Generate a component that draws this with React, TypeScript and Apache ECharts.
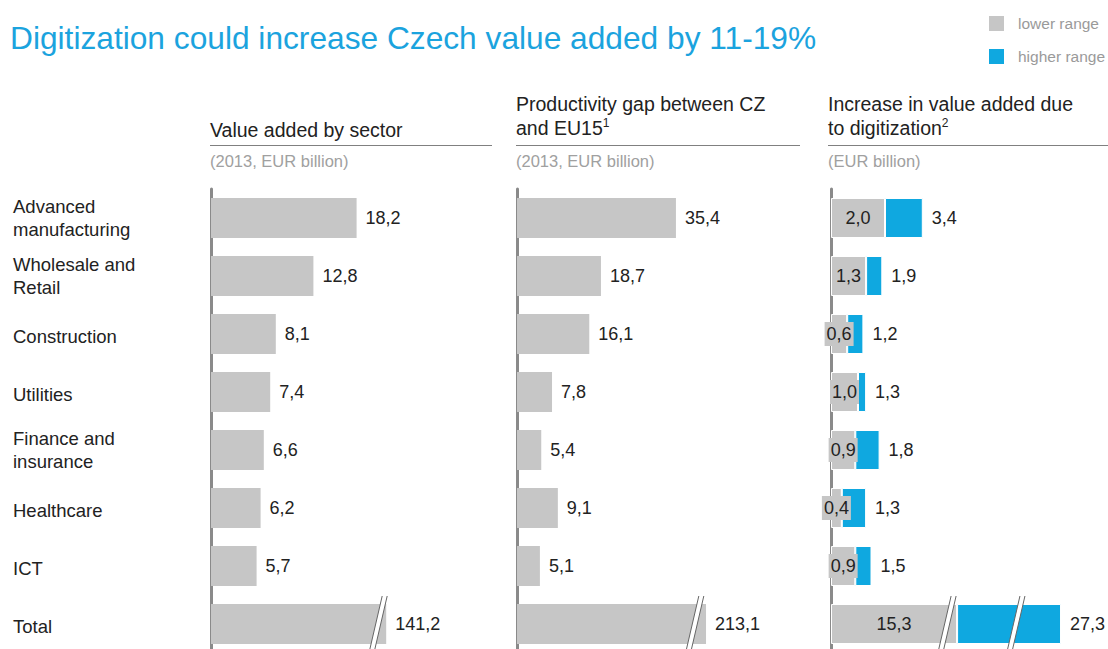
import React, { useEffect, useRef } from 'react';
import * as echarts from 'echarts';

const titleText = 'Digitization could increase Czech value added by 11-19%';
const categories = [
  'Advanced\nmanufacturing',
  'Wholesale and\nRetail',
  'Construction',
  'Utilities',
  'Finance and\ninsurance',
  'Healthcare',
  'ICT',
  'Total',
];
const valueAdded = [18.2, 12.8, 8.1, 7.4, 6.6, 6.2, 5.7, 141.2];
const productivityGap = [35.4, 18.7, 16.1, 7.8, 5.4, 9.1, 5.1, 213.1];
const lowerRange = [2.0, 1.3, 0.6, 1.0, 0.9, 0.4, 0.9, 15.3];
const higherRange = [3.4, 1.9, 1.2, 1.3, 1.8, 1.3, 1.5, 27.3];
const legendNames = ['lower range', 'higher range'];
const unitLabels = ['(2013, EUR billion)', '(2013, EUR billion)', '(EUR billion)'];

// axis breaks (start, end) for the long Total bars
const breaks1 = [[20.9, 140.2]];
const breaks2 = [[39.6, 210.6]];
const breaks3 = [[4.3, 14.93], [17.48, 25.63]];

const FONT = 'Liberation Sans, Arial, sans-serif';
const GRAY = '#c6c6c6';
const BLUE = '#0fa8e0';
const TXT = '#222';

const fmt = (v: number) => v.toFixed(1).replace('.', ',');

export default function App() {
  const ref = useRef<HTMLDivElement>(null);
  useEffect(() => {
    if (!ref.current) return;
    const chart = echarts.init(ref.current, null, { renderer: 'svg' });

    const TOP = 189;
    const ROWH = 58;
    const H = ROWH * categories.length;
    const panels = [
      { left: 211, px: 8.0, max: 150, breaks: breaks1 },
      { left: 517, px: 4.49, max: 230, breaks: breaks2 },
      { left: 831, px: 27, max: 29, breaks: breaks3 },
    ];
    const grids = panels.map((p) => {
      const removed = p.breaks.reduce((s, b) => s + (b[1] - b[0]), 0);
      return { left: p.left, top: TOP, height: H, width: (p.max - removed) * p.px };
    });
    const xAxes = panels.map((p, i) => ({
      gridIndex: i,
      type: 'value',
      min: 0,
      max: p.max,
      show: false,
      breaks: p.breaks.map((b) => ({ start: b[0], end: b[1], gap: 0 })),
      breakArea: { show: false, itemStyle: { opacity: 0 } },
      splitLine: { show: false },
    }));
    const yAxes = panels.map((p, i) => ({
      gridIndex: i,
      type: 'category',
      data: categories,
      inverse: true,
      axisLine: { show: true, lineStyle: { color: '#8a8a8a', width: 3 } },
      axisTick: { show: false },
      splitLine: { show: false },
      axisLabel:
        i === 0
          ? {
              show: true,
              align: 'left',
              margin: 198,
              fontSize: 18.5,
              lineHeight: 23.5,
              color: TXT,
              fontFamily: FONT,
              formatter: (v: string) => (v.includes('\n') ? v : '{one|' + v + '}'),
              rich: {
                one: { fontSize: 18.5, fontFamily: FONT, color: TXT, padding: [5, 0, 0, 0] },
              },
            }
          : { show: false },
    }));

    const slashSeries = panels.map((p, i) => ({
      type: 'custom',
      xAxisIndex: i,
      yAxisIndex: i,
      z: 10,
      silent: true,
      clip: false,
      data: p.breaks.map((b) => [b[0], categories.length - 1]),
      encode: { x: 0, y: 1 },
      renderItem: (params: any, api: any) => {
        const c = api.coord([api.value(0), api.value(1)]);
        const h = 28;
        const s = 6.5;
        const w = 5;
        const x = c[0];
        const y = c[1];
        return {
          type: 'group',
          children: [
            {
              type: 'polygon',
              shape: {
                points: [
                  [x + s - w / 2, y - h],
                  [x + s + w / 2, y - h],
                  [x - s + w / 2, y + h],
                  [x - s - w / 2, y + h],
                ],
              },
              style: { fill: '#fff' },
            },
            {
              type: 'line',
              shape: { x1: x + s - w / 2, y1: y - h, x2: x - s - w / 2, y2: y + h },
              style: { stroke: '#666', lineWidth: 1 },
            },
            {
              type: 'line',
              shape: { x1: x + s + w / 2, y1: y - h, x2: x - s + w / 2, y2: y + h },
              style: { stroke: '#666', lineWidth: 1 },
            },
          ],
        };
      },
    }));

    const valueLabel = {
      show: true,
      position: 'right',
      distance: 9,
      fontSize: 18,
      color: TXT,
      fontFamily: FONT,
      formatter: (p: any) => fmt(p.value),
    };

    const headerText = (x: number, y: number, text: string) => ({
      type: 'text',
      x,
      y,
      style: {
        text,
        fontSize: 19.5,
        fontFamily: FONT,
        fill: TXT,
        verticalAlign: 'middle',
        rich: {
          sup: { fontSize: 12, fontFamily: FONT, fill: TXT, verticalAlign: 'top', lineHeight: 22 },
          n: { fontSize: 19.5, fontFamily: FONT, fill: TXT, lineHeight: 22 },
        },
      },
    });

    const option: any = {
      animation: false,
      textStyle: { fontFamily: FONT },
      legend: {
        data: legendNames,
        orient: 'vertical',
        left: 987,
        top: 14,
        padding: 0,
        itemWidth: 17,
        itemHeight: 17,
        itemGap: 14,
        icon: 'rect',
        selectedMode: false,
        textStyle: { color: '#9a9a9a', fontSize: 15.5, fontFamily: FONT, padding: [0, 0, 0, 8] },
      },
      grid: grids,
      xAxis: xAxes,
      yAxis: yAxes,
      graphic: [
        {
          type: 'text',
          x: 10,
          y: 38,
          style: {
            text: titleText,
            fontSize: 31.7,
            fontFamily: FONT,
            fill: '#1ba3de',
            verticalAlign: 'middle',
          },
        },
        headerText(210, 130, 'Value added by sector'),
        headerText(516, 104, 'Productivity gap between CZ'),
        headerText(516, 128, '{n|and EU15}{sup|1}'),
        headerText(828, 104, 'Increase in value added due'),
        headerText(828, 128, '{n|to digitization}{sup|2}'),
        { type: 'line', shape: { x1: 210, y1: 145.5, x2: 492, y2: 145.5 }, style: { stroke: '#808080', lineWidth: 1 } },
        { type: 'line', shape: { x1: 516, y1: 145.5, x2: 800, y2: 145.5 }, style: { stroke: '#808080', lineWidth: 1 } },
        { type: 'line', shape: { x1: 828, y1: 145.5, x2: 1108, y2: 145.5 }, style: { stroke: '#808080', lineWidth: 1 } },
        ...[210, 516, 828].map((x, i) => ({
          type: 'text',
          x,
          y: 161,
          style: { text: unitLabels[i], fontSize: 16.5, fontFamily: FONT, fill: '#a0a0a0', verticalAlign: 'middle' },
        })),
      ],
      series: [
        {
          type: 'bar',
          name: 'Value added',
          xAxisIndex: 0,
          yAxisIndex: 0,
          data: valueAdded,
          barWidth: 40,
          itemStyle: { color: GRAY },
          label: valueLabel,
        },
        {
          type: 'bar',
          name: 'Productivity gap',
          xAxisIndex: 1,
          yAxisIndex: 1,
          data: productivityGap,
          barWidth: 40,
          itemStyle: { color: GRAY },
          label: valueLabel,
        },
        {
          type: 'bar',
          name: legendNames[0],
          xAxisIndex: 2,
          yAxisIndex: 2,
          stack: 'range',
          data: lowerRange,
          barWidth: 40,
          itemStyle: { color: GRAY, borderColor: '#fff', borderWidth: 1 },
          label: {
            show: true,
            position: 'inside',
            fontSize: 18,
            color: TXT,
            fontFamily: FONT,
            backgroundColor: GRAY,
            padding: [3, 2],
            formatter: (p: any) => fmt(p.value),
          },
        },
        {
          type: 'bar',
          name: legendNames[1],
          xAxisIndex: 2,
          yAxisIndex: 2,
          stack: 'range',
          data: higherRange.map((h, i) => +(h - lowerRange[i]).toFixed(2)),
          barWidth: 40,
          itemStyle: { color: BLUE, borderColor: '#fff', borderWidth: 1 },
          label: {
            show: true,
            position: 'right',
            distance: 9,
            fontSize: 18,
            color: TXT,
            fontFamily: FONT,
            formatter: (p: any) => fmt(higherRange[p.dataIndex]),
          },
        },
        ...slashSeries,
      ],
    };
    chart.setOption(option);
    return () => chart.dispose();
  }, []);
  return (
    <div
      ref={ref}
      style={{ position: 'fixed', left: 0, top: 0, width: 1108, height: 672, background: '#fff' }}
    />
  );
}
